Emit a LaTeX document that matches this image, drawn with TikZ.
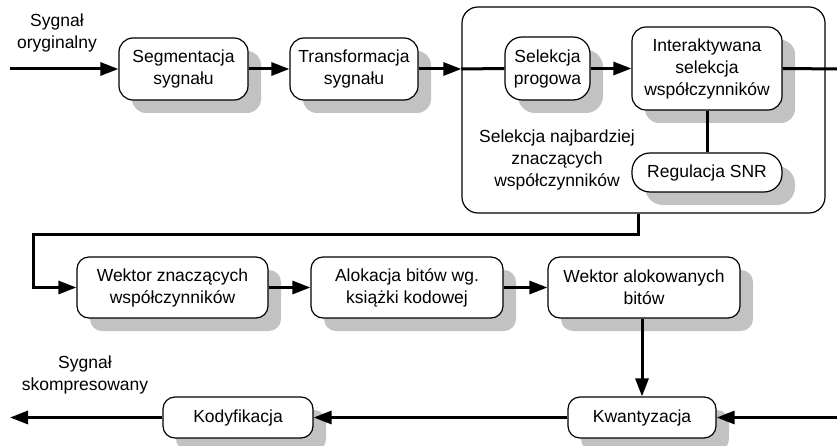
\documentclass[tikz,border=0pt]{standalone}
\usepackage{fontspec}
\setmainfont{Liberation Sans}
\usetikzlibrary{shadows,arrows.meta}
\definecolor{shade}{gray}{0.76}
\tikzset{
  block/.style={draw=black, line width=1.2pt, fill=white, rounded corners=14pt,
    align=center, inner sep=2pt,
    drop shadow={shadow xshift=13pt, shadow yshift=-13pt, fill=shade, opacity=1}},
  frame/.style={draw=black, line width=1.2pt, rounded corners=16pt},
  flow/.style={line width=3pt, -{Triangle[length=18pt,width=13pt]}},
  link/.style={line width=3pt},
  lbl/.style={align=center, inner sep=0pt}
}
\begin{document}
\begin{tikzpicture}[x=1pt, y=-1pt, font=\fontsize{17.5}{22}\selectfont]
\useasboundingbox (0,0) rectangle (837,446);
\clip (0,0) rectangle (837,446);

% top row
\node[block, minimum width=129pt, minimum height=62pt] (seg) at (183.5,69) {Segmentacja\\sygnału};
\node[block, minimum width=128pt, minimum height=62pt] (trans) at (354,69) {Transformacja\\sygnału};
\node[frame, minimum width=363pt, minimum height=206pt] (big) at (643.5,110) {};
\node[block, rounded corners=17pt, minimum width=85pt, minimum height=63pt] (prog) at (547.5,68.5) {Selekcja\\progowa};
\node[block, minimum width=150pt, minimum height=83pt] (inter) at (707,68.5) {Interaktywana\\selekcja\\współczynników};
\node[block, rounded corners=18pt, minimum width=150pt, minimum height=39pt] (snr) at (707,172.5) {Regulacja SNR};
\node[lbl] (selt) at (557,160) {Selekcja najbardziej\\znaczących\\współczynników};
\node[lbl] (inlbl) at (57,33) {Sygnał\\oryginalny};

% middle row
\node[block, rounded corners=12pt, minimum width=191pt, minimum height=61pt] (wz) at (172.5,287.5) {Wektor znaczących\\współczynników};
\node[block, rounded corners=12pt, minimum width=192pt, minimum height=61pt] (alok) at (407,287.5) {Alokacja bitów wg.\\książki kodowej};
\node[block, rounded corners=12pt, minimum width=192pt, minimum height=61pt] (wa) at (644,287.5) {Wektor alokowanych\\bitów};

% bottom row
\node[block, rounded corners=12pt, minimum width=148pt, minimum height=41pt] (kw) at (642,417.5) {Kwantyzacja};
\node[block, rounded corners=12pt, minimum width=150pt, minimum height=41pt] (kod) at (238,417.5) {Kodyfikacja};
\node[lbl] (outlbl) at (85,375) {Sygnał\\skompresowany};

% free ends and turning points
\coordinate (in) at (10,69);
\coordinate (outR) at (840,69);
\coordinate (turnR) at (638,235);
\coordinate (turnL) at (33,235);
\coordinate (inB) at (840,417.5);
\coordinate (outB) at (10,417.5);

% connectors
\draw[flow] (in) -- (seg.west);
\draw[flow] (seg.east) -- (trans.west);
\draw[flow] (trans.east) -- (trans.east -| big.west);
\draw[link] (trans.east -| big.west) -- (prog.west);
\draw[flow] (prog.east) -- (inter.west);
\draw[link] (inter.east) -- (outR);
\draw[link] (inter.south) -- (snr.north);
\draw[flow] (turnR |- big.south) -- (turnR) -- (turnL) |- (wz.west);
\draw[flow] (wz.east) -- (alok.west);
\draw[flow] (alok.east) -- (wa.west);
\draw[flow] (kw.north |- wa.south) -- (kw.north);
\draw[flow] (inB) -- (kw.east);
\draw[flow] (kw.west) -- (kod.east);
\draw[flow] (kod.west) -- (outB);
\end{tikzpicture}
\end{document}
